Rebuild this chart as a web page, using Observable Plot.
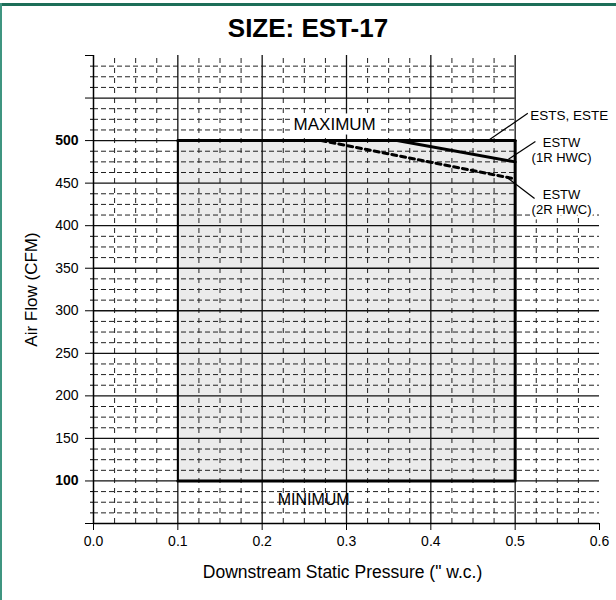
<!DOCTYPE html>
<html>
<head>
<meta charset="utf-8">
<script src="https://cdn.jsdelivr.net/npm/d3@7"></script>
<script src="https://cdn.jsdelivr.net/npm/@observablehq/plot@0.6"></script>
<style>
  html, body { margin: 0; padding: 0; background: #fff; }
  #page { position: relative; width: 616px; height: 600px; overflow: hidden; font-family: "Liberation Sans", Arial, Helvetica, sans-serif; }
  #topline { position: absolute; left: 0; top: 3px; width: 616px; height: 3px; background: #1d6e58; }
  #leftline { position: absolute; left: 0; top: 3px; width: 2px; height: 597px; background: #3f9580; }
  #title { position: absolute; left: 0; top: 15px; width: 616px; text-align: center; font-weight: bold; font-size: 26px; line-height: 26px; color: #000; }
  #chart { position: absolute; left: 0; top: 45px; }
</style>
</head>
<body>
<div id="page">
  <div id="topline"></div>
  <div id="leftline"></div>
  <div id="title">SIZE: EST-17</div>
  <div id="chart"></div>
</div>
<script>
// ---- data ----
const xTicks = [0.0, 0.1, 0.2, 0.3, 0.4, 0.5, 0.6];
const yTicksNormal = [150, 200, 250, 300, 350, 400, 450];
const yTicksBold = [100, 500];
const yTicksUnlabeled = [50, 550, 600];
const xGridMajor = [0.1, 0.2, 0.3, 0.4, 0.5];
const yGridMajor = [100, 150, 200, 250, 300, 350, 400, 450, 500, 550];

// operating range box
const rangeBox = [{pMin: 0.1, pMax: 0.5, cfmMin: 100, cfmMax: 500}];
// limit lines
const estsEste = [{p: 0.1, cfm: 500}, {p: 0.5, cfm: 500}];
const estw1R = [{p: 0.36, cfm: 500}, {p: 0.5, cfm: 475}];
const estw2R = [{p: 0.27, cfm: 500}, {p: 0.5, cfm: 455}];
const minLine = [{p: 0.1, cfm: 100}, {p: 0.5, cfm: 100}];

// labels
const maxLabel = [{text: "MAXIMUM", p: 0.286, cfm: 519}];
const minLabel = [{text: "MINIMUM", p: 0.261, cfm: 78}];
const leaders = [
  {p1: 0.468, c1: 500, p2: 0.515, c2: 532},
  {p1: 0.492, c1: 478, p2: 0.524, c2: 499},
  {p1: 0.490, c1: 457, p2: 0.523, c2: 432}
];
const estsLabel = [{text: "ESTS, ESTE", p: 0.518, cfm: 529}];
const estwLabels = [
  {text: "ESTW\n(1R HWC)", p: 0.555, cfm: 489},
  {text: "ESTW\n(2R HWC)", p: 0.555, cfm: 428}
];
// grid is left blank in the label strip right of 0.5 above this flow
const clearAbove = 415;

// minor grid (every 0.025 in. w.c. and every 12.5 CFM)
const xMinor = d3.range(0, 0.6001, 0.025).filter(v => Math.abs(v * 10 - Math.round(v * 10)) > 1e-6);
const yMinor = d3.range(50, 600.01, 12.5).filter(v => v % 50 !== 0);

const font = "Liberation Sans, Arial, Helvetica, sans-serif";

const plot = Plot.plot({
  width: 616,
  height: 555,
  marginTop: 10,
  marginRight: 17,
  marginBottom: 77,
  marginLeft: 93,
  style: {fontFamily: font, fontSize: "14px", color: "#000", background: "transparent", overflow: "visible"},
  x: {domain: [0, 0.6], label: null},
  y: {domain: [50, 600], label: null},
  marks: [
    Plot.rect(rangeBox, {x1: "pMin", x2: "pMax", y1: "cfmMin", y2: "cfmMax", fill: "#ebebeb"}),
    Plot.ruleX(xMinor, {y1: 50, y2: d => d > 0.5 ? clearAbove : 600, stroke: "#222", strokeWidth: 1, strokeDasharray: "5,5"}),
    Plot.ruleY(yMinor, {x1: 0, x2: d => d > clearAbove ? 0.5 : 0.6, stroke: "#222", strokeWidth: 1, strokeDasharray: "5,3"}),
    Plot.ruleX(xGridMajor, {stroke: "#111", strokeWidth: 1.3}),
    Plot.ruleY(yGridMajor, {x1: 0, x2: d => d > clearAbove ? 0.5 : 0.6, stroke: "#111", strokeWidth: 1.3}),
    Plot.ruleX([0], {stroke: "#000", strokeWidth: 1.5}),
    Plot.ruleY([50], {stroke: "#000", strokeWidth: 1.5}),
    // box outline
    Plot.ruleX([0.1], {y1: 100, y2: 500, stroke: "#000", strokeWidth: 2}),
    Plot.ruleX([0.5], {y1: 100, y2: 500, stroke: "#000", strokeWidth: 3}),
    Plot.line(minLine, {x: "p", y: "cfm", stroke: "#000", strokeWidth: 3}),
    Plot.line(estsEste, {x: "p", y: "cfm", stroke: "#000", strokeWidth: 3}),
    Plot.line(estw1R, {x: "p", y: "cfm", stroke: "#000", strokeWidth: 3}),
    Plot.line(estw2R, {x: "p", y: "cfm", stroke: "#000", strokeWidth: 3, strokeDasharray: "5,4"}),
    // labels
    Plot.text(maxLabel, {x: "p", y: "cfm", text: "text", fontSize: 17, fill: "#000", stroke: "white", strokeWidth: 9}),
    Plot.text(minLabel, {x: "p", y: "cfm", text: "text", fontSize: 16, fill: "#000"}),
    Plot.link(leaders, {x1: "p1", y1: "c1", x2: "p2", y2: "c2", stroke: "#000", strokeWidth: 1.2}),
    Plot.text(estsLabel, {x: "p", y: "cfm", text: "text", textAnchor: "start", fontSize: 13.5, fill: "#000"}),
    Plot.text(estwLabels, {x: "p", y: "cfm", text: "text", textAnchor: "middle", fontSize: 13, lineHeight: 1.1, fill: "#000", stroke: "white", strokeWidth: 5}),
    // axes
    Plot.axisY(yTicksNormal, {tickSize: 8, tickPadding: 7, fontSize: 14, label: null}),
    Plot.axisY(yTicksBold, {tickSize: 8, tickPadding: 7, fontSize: 14, fontWeight: "bold", label: null}),
    Plot.axisY(yTicksUnlabeled, {tickSize: 8, tickFormat: () => "", label: null}),
    Plot.axisY(yMinor, {tickSize: 3, tickFormat: () => "", label: null}),
    Plot.axisX(xTicks, {tickSize: 7, tickPadding: 6, fontSize: 14, tickFormat: d3.format(".1f"), label: null}),
    Plot.text(["Downstream Static Pressure (\" w.c.)"], {frameAnchor: "bottom", lineAnchor: "middle", dx: -4, dy: 49, fontSize: 17.5, fill: "#000"}),
    Plot.text(["Air Flow (CFM)"], {frameAnchor: "left", textAnchor: "middle", lineAnchor: "middle", dx: -62, rotate: -90, fontSize: 17, fill: "#000"})
  ]
});
document.getElementById("chart").appendChild(plot);
</script>
</body>
</html>
